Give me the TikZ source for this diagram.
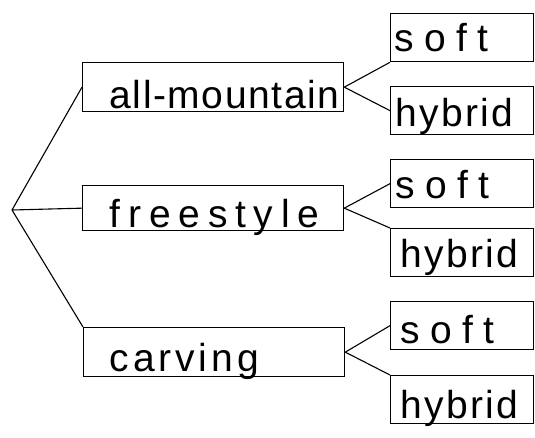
\documentclass[tikz,border=0pt]{standalone}
\usepackage{fontspec}
\newfontfamily\handfont{Liberation Sans}
\begin{document}
\begin{tikzpicture}[x=1pt,y=-1pt,line width=1.3pt,
  box/.style={draw,rectangle,inner sep=0pt,anchor=north west},
  midbox/.style={box,minimum width=261pt,minimum height=49pt},
  leafbox/.style={box,minimum width=143pt,minimum height=48pt},
  word/.style={anchor=base west,inner sep=0pt,font=\handfont\fontsize{39}{39}\selectfont},
  link/.style={draw,line width=1.1pt}]
\useasboundingbox (0,0) rectangle (535,437);

% category boxes
\node[midbox] (am) at (82,62) {};
\node[midbox,minimum height=45pt] (fs) at (82,185) {};
\node[midbox] (cv) at (83,327) {};

% binding boxes
\node[leafbox] (s1) at (390,13) {};
\node[leafbox] (h1) at (390,86) {};
\node[leafbox] (s2) at (390,159) {};
\node[leafbox] (h2) at (390,228) {};
\node[leafbox] (s3) at (390,301) {};
\node[leafbox] (h3) at (390,375) {};

% labels
\node[word] (tam) at (109,108) {\addfontfeature{LetterSpace=4}all-mountain};
\node[word] (tfs) at (109,227) {\addfontfeature{LetterSpace=20}freestyle};
\node[word] (tcv) at (109,371) {\addfontfeature{LetterSpace=10}carving};
\node[word] (ts1) at (394,51) {\addfontfeature{LetterSpace=26}soft};
\node[word] (th1) at (395,126) {\addfontfeature{LetterSpace=6}hybrid};
\node[word] (ts2) at (395,198) {\addfontfeature{LetterSpace=26}soft};
\node[word] (th2) at (400,267) {\addfontfeature{LetterSpace=6}hybrid};
\node[word] (ts3) at (400,343) {\addfontfeature{LetterSpace=26}soft};
\node[word] (th3) at (400,418) {\addfontfeature{LetterSpace=6}hybrid};

% tree connectors
\coordinate (root) at (12,210);
\draw[link] (root) -- (am.west);
\draw[link] (root) -- (fs.west);
\draw[link] (root) -- (cv.north west);
\draw[link] (am.east) -- (s1.south west);
\draw[link] (am.east) -- (h1.west);
\draw[link] (fs.east) -- (s2.west);
\draw[link] (fs.east) -- (h2.north west);
\draw[link] (cv.east) -- (s3.west);
\draw[link] (cv.east) -- (h3.north west);
\end{tikzpicture}
\end{document}
